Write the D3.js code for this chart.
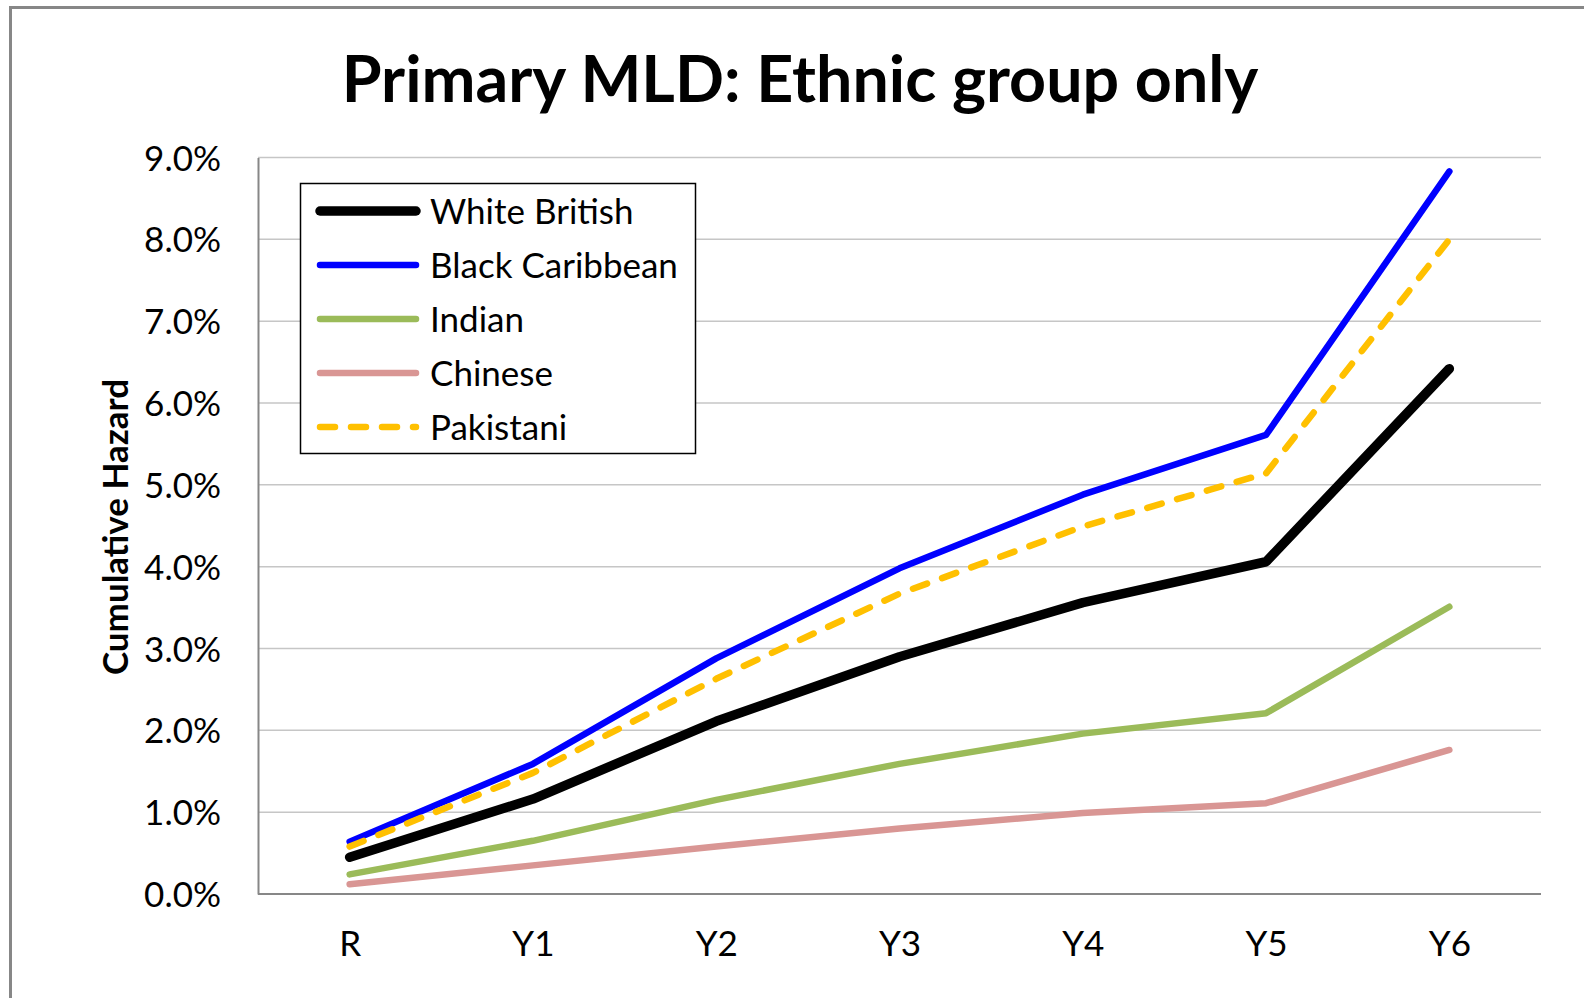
<!DOCTYPE html>
<html>
<head>
<meta charset="utf-8">
<script src="https://cdn.jsdelivr.net/npm/d3@7"></script>
<style>
  html, body { margin: 0; padding: 0; background: #fff; }
  svg { display: block; }
  text { font-family: Lato, "Open Sans", sans-serif; fill: #000; }
</style>
</head>
<body>
<svg id="chart" width="1584" height="998"></svg>
<script>
// Year groups on the x axis
const categories = ["R", "Y1", "Y2", "Y3", "Y4", "Y5", "Y6"];

// Cumulative hazard of a primary MLD identification, by ethnic group
const whiteBritish   = [0.0045, 0.0116, 0.0211, 0.0290, 0.0356, 0.0406, 0.0642];
const blackCaribbean = [0.0064, 0.0159, 0.0288, 0.0398, 0.0488, 0.0561, 0.0883];
const indian         = [0.0024, 0.0065, 0.0115, 0.0159, 0.0196, 0.0221, 0.0351];
const chinese        = [0.0012, 0.0035, 0.0058, 0.0080, 0.0099, 0.0111, 0.0176];
const pakistani      = [0.0058, 0.0148, 0.0263, 0.0367, 0.0449, 0.0514, 0.0800];

const seriesNames = ["White British", "Black Caribbean", "Indian", "Chinese", "Pakistani"];
const yTicks = [0, 0.01, 0.02, 0.03, 0.04, 0.05, 0.06, 0.07, 0.08, 0.09];

const series = [
  { name: seriesNames[0], values: whiteBritish,   color: "#000000", width: 9.5, dash: null },
  { name: seriesNames[1], values: blackCaribbean, color: "#0000FF", width: 6.5, dash: null },
  { name: seriesNames[2], values: indian,         color: "#9BBB59", width: 6.5, dash: null },
  { name: seriesNames[3], values: chinese,        color: "#D99694", width: 6.5, dash: null },
  { name: seriesNames[4], values: pakistani,      color: "#FFC000", width: 6.5, dash: "15 16" }
];

const svg = d3.select("#chart");

// Outer chart frame
svg.append("rect")
  .attr("x", 10.5).attr("y", 7.5)
  .attr("width", 1640).attr("height", 1060)
  .attr("fill", "#fff")
  .attr("stroke", "#878787").attr("stroke-width", 3);

const plot = { left: 258, right: 1541, top: 157.5, bottom: 894 };

const x = d3.scalePoint().domain(categories).range([plot.left, plot.right]).padding(0.5);
const y = d3.scaleLinear().domain([0, 0.09]).range([plot.bottom, plot.top]);

// Horizontal gridlines
svg.append("g")
  .selectAll("line")
  .data(yTicks.filter(d => d > 0))
  .join("line")
  .attr("x1", plot.left).attr("x2", plot.right)
  .attr("y1", d => y(d)).attr("y2", d => y(d))
  .attr("stroke", "#C6C6C6").attr("stroke-width", 1.5);

// Y axis
const yAxis = svg.append("g")
  .attr("transform", `translate(${plot.left},0)`)
  .call(d3.axisLeft(y).tickValues(yTicks).tickFormat(d3.format(".1%")).tickSize(0).tickPadding(37));
yAxis.select(".domain").attr("stroke", "#878787").attr("stroke-width", 2);
yAxis.selectAll("text").style("font-size", "35px").attr("fill", "#222").attr("dy", "0.36em");

// X axis
const xAxis = svg.append("g")
  .attr("transform", `translate(0,${plot.bottom})`)
  .call(d3.axisBottom(x).tickSize(0).tickPadding(0));
xAxis.select(".domain")
  .attr("d", `M${plot.left},0H${plot.right}`)
  .attr("stroke", "#878787").attr("stroke-width", 2);
xAxis.selectAll("text").style("font-size", "35px").attr("fill", "#222").attr("y", 62).attr("dy", 0);

// Series lines
const line = d3.line()
  .x((d, i) => x(categories[i]))
  .y(d => y(d));

svg.append("g")
  .selectAll("path")
  .data(series)
  .join("path")
  .attr("d", d => line(d.values))
  .attr("fill", "none")
  .attr("stroke", d => d.color)
  .attr("stroke-width", d => d.width)
  .attr("stroke-linecap", "round")
  .attr("stroke-linejoin", "round")
  .attr("stroke-dasharray", d => d.dash);

// Title
svg.append("text")
  .attr("x", 800).attr("y", 102)
  .attr("text-anchor", "middle")
  .style("font-size", "64.5px").style("font-weight", "bold")
  .text("Primary MLD: Ethnic group only");

// Y axis title
svg.append("text")
  .attr("transform", "translate(128,527) rotate(-90)")
  .attr("text-anchor", "middle")
  .style("font-size", "35px").style("font-weight", "bold")
  .text("Cumulative Hazard");

// Legend
const legend = svg.append("g");
legend.append("rect")
  .attr("x", 300.5).attr("y", 183.5)
  .attr("width", 395).attr("height", 270)
  .attr("fill", "#fff").attr("stroke", "#000").attr("stroke-width", 1.5);

const rowY = d3.scalePoint().domain(seriesNames).range([211, 427]);
const items = legend.selectAll("g.item").data(series).join("g").attr("class", "item");
items.append("line")
  .attr("x1", 320).attr("x2", 416)
  .attr("y1", d => rowY(d.name)).attr("y2", d => rowY(d.name))
  .attr("stroke", d => d.color)
  .attr("stroke-width", d => d.width)
  .attr("stroke-linecap", "round")
  .attr("stroke-dasharray", d => d.dash);
items.append("text")
  .attr("x", 430).attr("y", d => rowY(d.name) + 12.5)
  .style("font-size", "35px").attr("fill", "#222")
  .text(d => d.name);
</script>
</body>
</html>
